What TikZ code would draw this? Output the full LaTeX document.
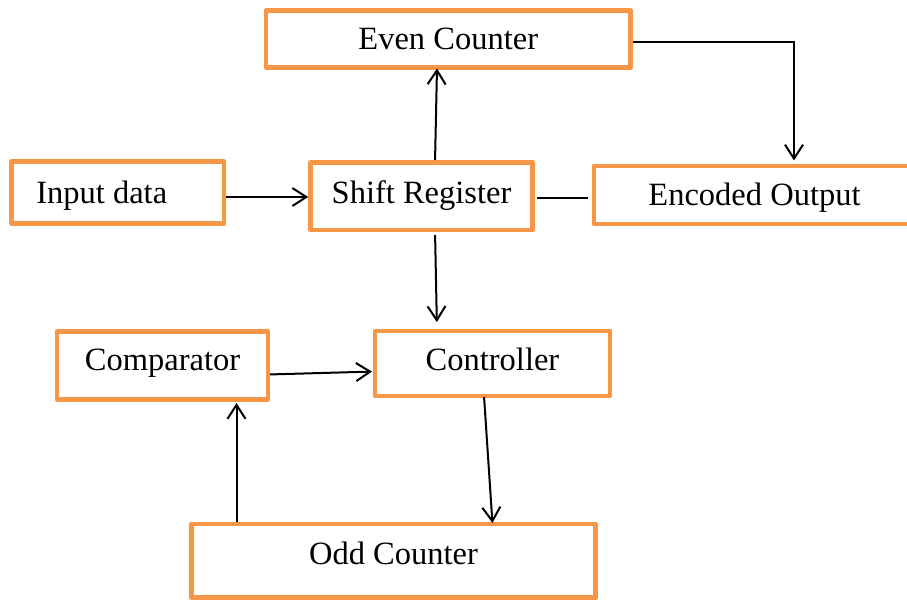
\documentclass[tikz,border=0pt]{standalone}
\usepackage{fontspec}
\setmainfont{Liberation Serif}
\usetikzlibrary{arrows.meta}
\definecolor{boxorange}{RGB}{247,150,70}
\tikzset{
  blk/.style={draw=boxorange, line width=4.5pt, line join=round, fill=white,
    rectangle, inner sep=0pt, outer sep=0pt,
    font=\fontsize{32.5pt}{36pt}\selectfont,
    text height=21.5pt, text depth=0pt},
  arr/.style={line width=2pt, -{Straight Barb[length=14pt,width=18pt]}},
  ln/.style={line width=1.8pt}
}
\begin{document}
\begin{tikzpicture}[x=1pt,y=-1pt]
  \useasboundingbox (0,0) rectangle (907,601);
  % blocks
  \node[blk, minimum width=364.5pt, minimum height=57pt] (even) at (448.25,39) {Even Counter};
  \node[blk, minimum width=212.5pt, minimum height=62pt] (input) at (117.75,192.5) {Input data\kern32pt\relax};
  \node[blk, minimum width=222pt, minimum height=67.5pt, text depth=6pt] (shift) at (421.5,196.25) {Shift Register};
  \node[blk, minimum width=321pt, minimum height=58pt] (enc) at (754.5,195) {Encoded Output};
  \node[blk, minimum width=211pt, minimum height=68pt, text depth=11pt] (comp) at (162.5,365.5) {Comparator};
  \node[blk, minimum width=235pt, minimum height=65pt, text depth=7pt] (ctrl) at (492.5,363.5) {Controller};
  \node[blk, minimum width=404pt, minimum height=73.5pt, text depth=15pt] (odd) at (393.5,560.75) {Odd Counter};
  % connectors
  \draw[arr, shorten <=2pt, shorten >=2.3pt]
    ([yshift=-4.5pt]input.east) -- ([yshift=-4.5pt]input.east -| shift.west);
  \draw[arr, shorten <=2.5pt, shorten >=1pt]
    ([xshift=13.5pt]shift.north) -- ([xshift=-11.25pt]even.south);
  \draw[arr, shorten <=5pt, shorten >=9pt]
    ([xshift=13.5pt]shift.south) -- ([xshift=-55.5pt]ctrl.north);
  \draw[ln, shorten <=4.5pt, shorten >=6pt]
    ([yshift=-1.5pt]shift.east) -- ([yshift=-1.5pt]shift.east -| enc.west);
  \draw[arr, shorten <=2pt, shorten >=5.5pt]
    ([yshift=-3.5pt]even.east) -| ([xshift=39.5pt]enc.north);
  \draw[arr, shorten <=2pt, shorten >=3pt]
    ([yshift=-9pt]comp.east) -- ([yshift=-8pt]ctrl.west);
  \draw[arr, shorten <=1pt, shorten >=1pt]
    ([xshift=-8.5pt]ctrl.south) -- ([xshift=99pt]odd.north);
  \draw[arr, shorten <=2pt, shorten >=3.5pt]
    ([xshift=-157pt]odd.north) -- ([xshift=74pt]comp.south);
\end{tikzpicture}
\end{document}
